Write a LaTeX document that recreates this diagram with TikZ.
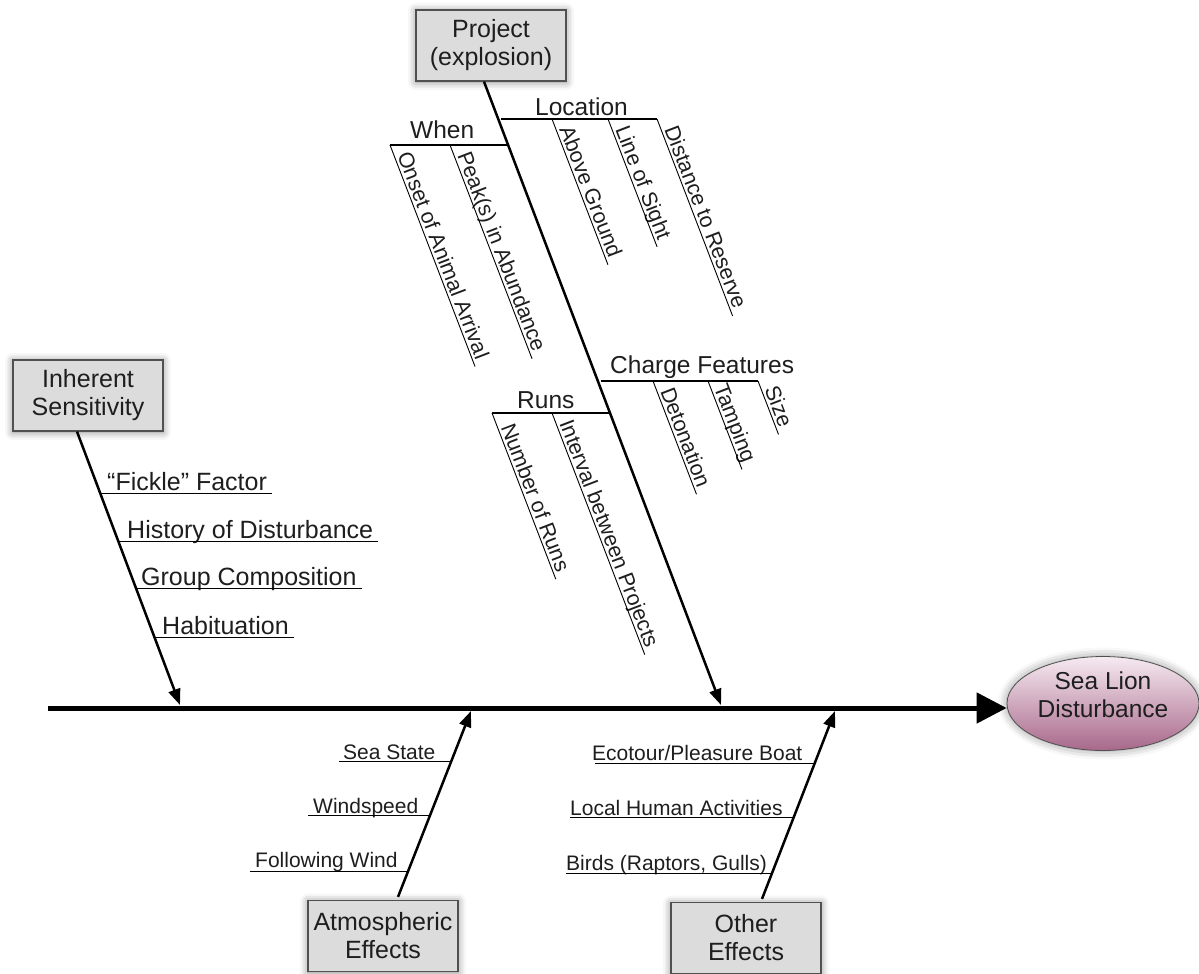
\documentclass[tikz,border=0pt]{standalone}
\usepackage{fontspec}
\setmainfont{Liberation Sans}
\usetikzlibrary{arrows.meta,calc,shapes.geometric,shadows.blur}

\definecolor{boxfill}{RGB}{220,220,220}
\definecolor{boxline}{RGB}{80,80,80}
\definecolor{inkgrey}{RGB}{30,30,30}
\definecolor{pinktop}{RGB}{246,234,241}
\definecolor{pinkbot}{RGB}{168,104,138}

\tikzset{
  causebox/.style={draw=boxline, line width=1.2pt, fill=boxfill, minimum width=150pt, minimum height=71pt,
    inner sep=0pt, align=center, text=inkgrey, font=\fontsize{25}{28}\selectfont,
    blur shadow={shadow xshift=0pt, shadow yshift=-1pt, shadow blur radius=8pt, shadow opacity=50}},
  effect/.style={ellipse, draw=boxline, line width=0.8pt, top color=pinktop, bottom color=pinkbot,
    minimum width=192pt, minimum height=94pt, inner sep=0pt,
    blur shadow={shadow xshift=0pt, shadow yshift=0pt, shadow blur radius=9pt, shadow opacity=45}},
  efftext/.style={align=center, inner sep=0pt, text=inkgrey, font=\fontsize{24.5}{28}\selectfont},
  spine/.style={line width=5pt, -{Triangle[length=30pt,width=30pt]}},
  bone/.style={line width=2.5pt, -{Triangle[length=16pt,width=12pt]}},
  rib/.style={line width=1.2pt},
  twig/.style={line width=0.9pt},
  catlab/.style={anchor=base west, inner sep=0pt, text=inkgrey, font=\fontsize{24.5}{28}\selectfont},
  sublab/.style={anchor=base west, inner sep=0pt, rotate=-69, text=inkgrey, font=\fontsize{21.5}{24}\selectfont},
  sidelab/.style={anchor=base west, inner sep=0pt, text=inkgrey, font=\fontsize{25}{28}\selectfont},
  lowlab/.style={anchor=base west, inner sep=0pt, text=inkgrey, font=\fontsize{21}{24}\selectfont},
}

\begin{document}
\begin{tikzpicture}[x=1pt,y=1pt,yscale=-1,xscale=1]
\useasboundingbox (0,0) rectangle (1199,974);

%Shape: Boxes
\node[causebox] (proj) at (491,45.5) {Project\\(explosion)};
\node[causebox] (inh) at (88,395.5) {Inherent\\Sensitivity};
\node[causebox] (atm) at (383,936) {Atmospheric\\Effects};
\node[causebox] (oth) at (746,938) {Other\\Effects};
%Shape: Ellipse
\node[effect] (eff) at (1103,703.5) {};
\node[efftext] (efft) at ($(eff.center)+(0,-9)$) {Sea Lion\\Disturbance};

%Spine
\coordinate (spineL) at (48,708);
\draw[spine] (spineL) -- (spineL -| eff.west);

%Main bones
\coordinate (tipP) at (721,705);
\coordinate (tipI) at (180,705);
\coordinate (tipA) at (471,711);
\coordinate (tipO) at (835,711);
\draw[bone] ($(proj.south)+(-7,0)$) -- (tipP);
\draw[bone] ($(inh.south)+(-11,0)$) -- (tipI);
\draw[bone] ($(atm.north)+(15,-3)$) -- (tipA);
\draw[bone] ($(oth.north)+(16,-3)$) -- (tipO);

%Straight Lines: When
\coordinate (whenL) at (390,145);
\coordinate (whenR) at (508,145);
\coordinate (peakS) at (450,145);
\draw[rib] (whenL) -- (whenR);
\node[catlab] (when) at (410,138) {When};
\node[sublab] (onset) at ($(whenL)+(69:12)+(-21:3)$) {Onset of Animal Arrival};
\draw[twig] (whenL) -- ($(onset.base east)+(159:3)+(69:5)$);
\node[sublab] (peak) at ($(peakS)+(69:12)+(-21:3)$) {Peak(s) in Abundance};
\draw[twig] (peakS) -- ($(peak.base east)+(159:3)+(69:5)$);

%Straight Lines: Location
\coordinate (locL) at (501,119);
\coordinate (locR) at (657,119);
\coordinate (aboveS) at (552,119);
\coordinate (sightS) at (608,119);
\draw[rib] (locL) -- (locR);
\node[catlab] (loc) at (535,115) {Location};
\node[sublab] (above) at ($(aboveS)+(69:12)+(-21:3)$) {Above Ground};
\draw[twig] (aboveS) -- ($(above.base east)+(159:3)+(69:5)$);
\node[sublab] (sight) at ($(sightS)+(69:12)+(-21:3)$) {Line of Sight};
\draw[twig] (sightS) -- ($(sight.base east)+(159:3)+(69:5)$);
\node[sublab] (dist) at ($(locR)+(69:12)+(-21:3)$) {Distance to Reserve};
\draw[twig] (locR) -- ($(dist.base east)+(159:3)+(69:5)$);

%Straight Lines: Charge Features
\coordinate (chgL) at (601,381);
\coordinate (chgR) at (758,381);
\coordinate (detS) at (653,381);
\coordinate (tampS) at (708,381);
\draw[rib] (chgL) -- (chgR);
\node[catlab] (chg) at (610,373) {Charge Features};
\node[sublab] (det) at ($(detS)+(69:12)+(-21:3)$) {Detonation};
\draw[twig] (detS) -- ($(det.base east)+(159:3)+(69:5)$);
\node[sublab] (tamp) at ($(tampS)+(69:8)+(-21:3)$) {Tamping};
\draw[twig] (tampS) -- ($(tamp.base east)+(159:3)+(69:5)$);
\node[sublab] (size) at ($(chgR)+(69:10)+(-21:3)$) {Size};
\draw[twig] (chgR) -- ($(size.base east)+(159:3)+(69:5)$);

%Straight Lines: Runs
\coordinate (runL) at (492,413);
\coordinate (runR) at (610,413);
\coordinate (intS) at (552,413);
\draw[rib] (runL) -- (runR);
\node[catlab] (runs) at (517,408) {Runs};
\node[sublab] (nrun) at ($(runL)+(69:16)+(-21:3)$) {Number of Runs};
\draw[twig] (runL) -- ($(nrun.base east)+(159:3)+(69:5)$);
\node[sublab] (intv) at ($(intS)+(69:12)+(-21:3)$) {Interval between Projects};
\draw[twig] (intS) -- ($(intv.base east)+(159:3)+(69:5)$);

%Straight Lines: Inherent Sensitivity
\coordinate (fickA) at (100,493);
\coordinate (histA) at (118,541);
\coordinate (grpA) at (136,588);
\coordinate (habA) at (154,637);
\node[sidelab] (fickle) at (107,490) {“Fickle” Factor};
\draw[twig] (fickA) -- ($(fickle.base east)+(5,3)$);
\node[sidelab] (hist) at (127,538) {History of Disturbance};
\draw[twig] (histA) -- ($(hist.base east)+(5,3)$);
\node[sidelab] (grp) at (141,585) {Group Composition};
\draw[twig] (grpA) -- ($(grp.base east)+(5,3)$);
\node[sidelab] (hab) at (162,634) {Habituation};
\draw[twig] (habA) -- ($(hab.base east)+(5,3)$);

%Straight Lines: Atmospheric Effects
\coordinate (seaA) at (450,761);
\coordinate (windA) at (429,815);
\coordinate (follA) at (408,871);
\node[lowlab] (sea) at (343,759) {Sea State};
\draw[twig] ($(sea.base west)+(-4,2)$) -- (seaA);
\node[lowlab] (wind) at (313,813) {Windspeed};
\draw[twig] ($(wind.base west)+(-5,2)$) -- (windA);
\node[lowlab] (foll) at (255,867) {Following Wind};
\draw[twig] ($(foll.base west)+(-5,4)$) -- (follA);

%Straight Lines: Other Effects
\coordinate (ecoA) at (814,763);
\coordinate (locHA) at (793,817);
\coordinate (birdA) at (772,873);
\node[lowlab] (eco) at (592,760) {Ecotour/Pleasure Boat};
\draw[twig] ($(eco.base west)+(3,3)$) -- (ecoA);
\node[lowlab] (lha) at (570,815) {Local Human Activities};
\draw[twig] ($(lha.base west)+(0,2)$) -- (locHA);
\node[lowlab] (bird) at (566,870) {Birds (Raptors, Gulls)};
\draw[twig] ($(bird.base west)+(0,3)$) -- (birdA);

\end{tikzpicture}
\end{document}
